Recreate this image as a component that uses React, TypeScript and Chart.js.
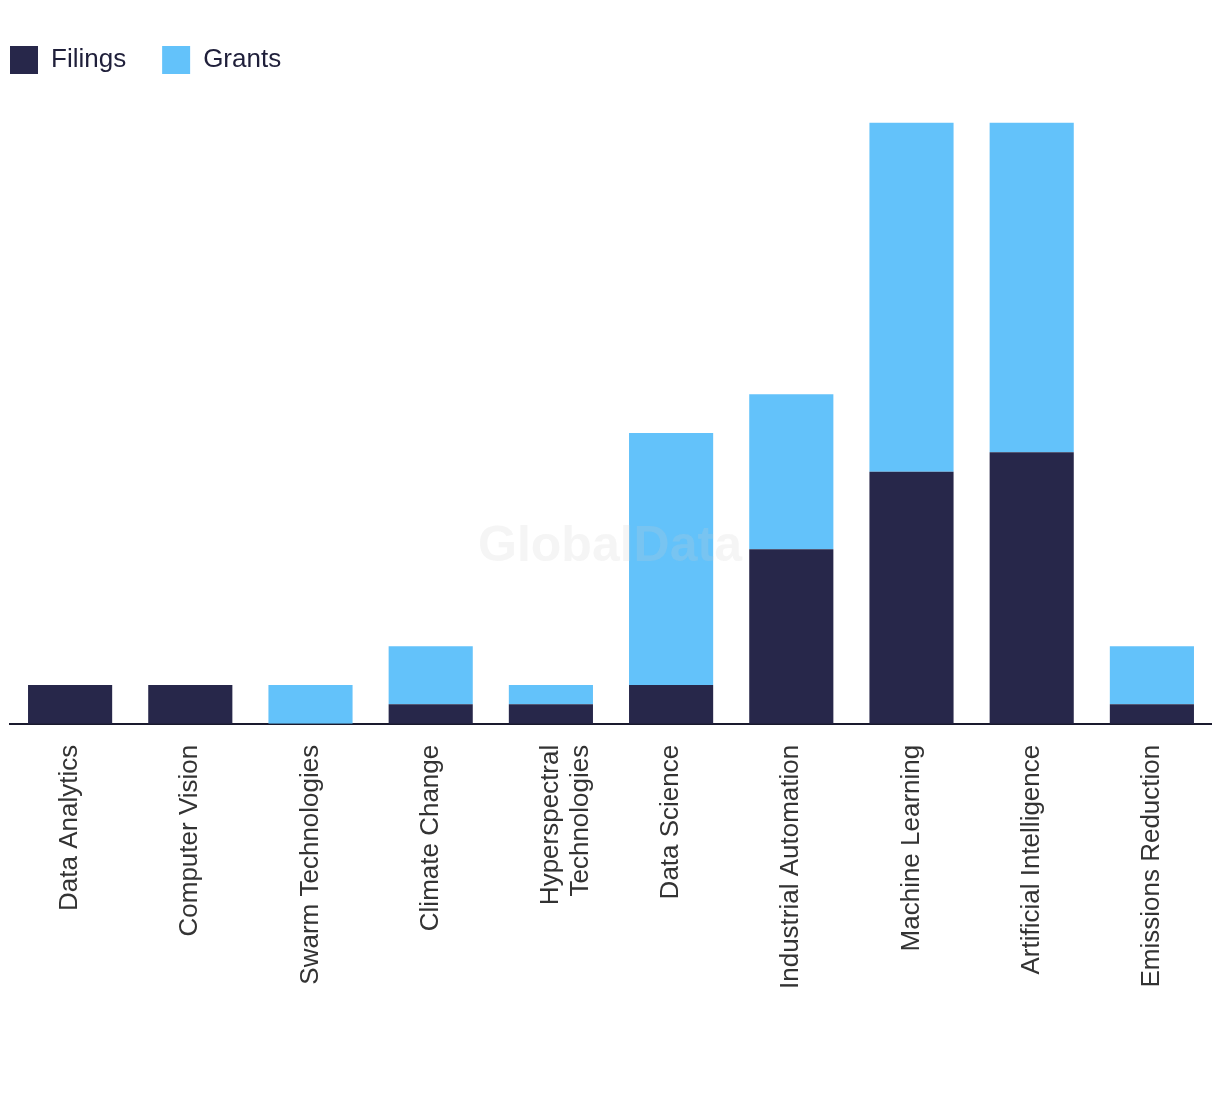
import React, { useEffect, useRef } from "react";
import { Chart, registerables } from "chart.js";

Chart.register(...registerables);

const categories: (string | string[])[] = [
  "Data Analytics",
  "Computer Vision",
  "Swarm Technologies",
  "Climate Change",
  ["Hyperspectral", "Technologies"],
  "Data Science",
  "Industrial Automation",
  "Machine Learning",
  "Artificial Intelligence",
  "Emissions Reduction",
];
const filings = [2, 2, 0, 1, 1, 2, 9, 13, 14, 1];
const grants = [0, 0, 2, 3, 1, 13, 8, 18, 17, 3];
const yMax = 33;

const FONT = "'Liberation Sans', Arial, sans-serif";
const LEGEND_PAD = 36;

const watermark = {
  id: "watermark",
  afterDatasetsDraw(chart: any) {
    const { ctx } = chart;
    ctx.save();
    ctx.font = `bold 50px ${FONT}`;
    ctx.fillStyle = "rgba(204,204,204,0.2)";
    ctx.textAlign = "center";
    ctx.textBaseline = "middle";
    ctx.fillText("GlobalData", 610 - 8, 547 - 8);
    ctx.restore();
  },
};

const legendShift = {
  id: "legendShift",
  afterLayout(chart: any) {
    const lg = chart.legend;
    if (lg) {
      lg.left -= LEGEND_PAD;
      lg.right -= LEGEND_PAD;
    }
  },
};

export default function App() {
  const ref = useRef<HTMLCanvasElement>(null);
  useEffect(() => {
    if (!ref.current) return;
    const chart = new Chart(ref.current, {
      type: "bar",
      data: {
        labels: categories,
        datasets: [
          { label: "Filings", data: filings, backgroundColor: "#27274A", barPercentage: 0.7, categoryPercentage: 1 },
          { label: "Grants", data: grants, backgroundColor: "#63C2FA", barPercentage: 0.7, categoryPercentage: 1 },
        ],
      },
      options: {
        animation: false,
        responsive: true,
        maintainAspectRatio: false,
        layout: { padding: { left: 2, right: 0, top: 38 - LEGEND_PAD, bottom: 76 } },
        plugins: {
          legend: {
            position: "top",
            align: "start",
            labels: {
              boxWidth: 28,
              boxHeight: 28,
              padding: LEGEND_PAD,
              color: "#1f1f3a",
              font: { size: 26, family: FONT },
            },
          },
          tooltip: { enabled: false },
        },
        scales: {
          x: {
            stacked: true,
            grid: { display: false },
            border: { display: true, color: "#1a1a2e", width: 2 },
            ticks: {
              maxRotation: 90,
              minRotation: 90,
              padding: 13,
              color: "#333333",
              font: { size: 26, family: FONT, lineHeight: 1.15 },
            },
          },
          y: {
            stacked: true,
            display: false,
            min: 0,
            max: yMax,
          },
        },
      },
      plugins: [watermark, legendShift],
    });
    return () => chart.destroy();
  }, []);
  return (
    <div style={{ width: 1204, height: 1070, position: "relative" }}>
      <canvas ref={ref} />
    </div>
  );
}
